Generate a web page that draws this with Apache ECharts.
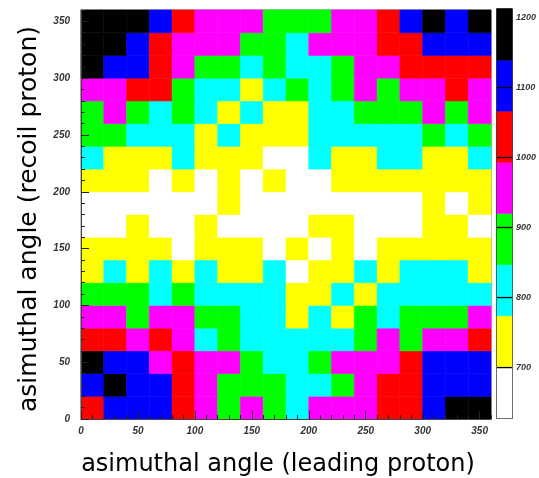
<!DOCTYPE html>
<html>
<head>
<meta charset="utf-8">
<script src="https://cdn.jsdelivr.net/npm/echarts@6/dist/echarts.min.js"></script>
<style>
  html, body { margin: 0; padding: 0; background: #ffffff; }
  #chart { width: 539px; height: 478px; }
</style>
</head>
<body>
<div id="chart"></div>
<script>
// Bin lower edges (degrees), leading proton (x) and recoil proton (y)
const phiLeadEdges = [0, 20, 40, 60, 80, 100, 120, 140, 160, 180, 200, 220, 240, 260, 280, 300, 320, 340];
const phiRecoilEdges = [0, 20, 40, 60, 80, 100, 120, 140, 160, 180, 200, 220, 240, 260, 280, 300, 320, 340];
const binWidth = 20;

// Counts per cell, one array per recoil-proton bin (bottom row first)
const recoil000 = [1035, 1098, 1110, 1095, 1040, 962, 890, 950, 878, 815, 945, 960, 968, 1025, 1048, 1090, 1168, 1182];
const recoil020 = [1105, 1160, 1112, 1088, 1022, 958, 885, 872, 880, 805, 818, 890, 940, 1030, 1015, 1100, 1115, 1095];
const recoil040 = [1172, 1090, 1085, 965, 1020, 948, 955, 878, 812, 800, 886, 962, 970, 950, 1035, 1092, 1108, 1120];
const recoil060 = [1028, 1010, 960, 1018, 945, 808, 875, 815, 820, 806, 812, 798, 880, 952, 890, 960, 945, 1040];
const recoil080 = [955, 968, 884, 948, 962, 876, 890, 820, 808, 745, 815, 740, 878, 810, 885, 892, 870, 958];
const recoil100 = [888, 875, 880, 810, 885, 805, 798, 815, 805, 735, 742, 812, 738, 806, 820, 802, 812, 818];
const recoil120 = [742, 808, 735, 812, 738, 815, 730, 745, 800, 680, 740, 735, 810, 742, 805, 812, 800, 748];
const recoil140 = [735, 745, 738, 728, 672, 740, 750, 732, 668, 736, 660, 744, 675, 738, 730, 742, 748, 738];
const recoil160 = [680, 672, 738, 665, 660, 735, 670, 658, 668, 662, 738, 742, 675, 660, 670, 732, 745, 678];
const recoil180 = [662, 655, 670, 660, 668, 662, 730, 672, 650, 660, 658, 665, 662, 668, 670, 738, 672, 735];
const recoil200 = [740, 735, 728, 680, 742, 678, 738, 684, 735, 676, 665, 738, 745, 732, 738, 742, 736, 740];
const recoil220 = [808, 748, 740, 745, 815, 738, 742, 752, 685, 682, 810, 748, 740, 812, 818, 745, 742, 808];
const recoil240 = [878, 870, 812, 820, 805, 750, 808, 755, 745, 748, 818, 810, 815, 822, 808, 875, 812, 888];
const recoil260 = [886, 950, 872, 818, 880, 812, 752, 820, 748, 745, 822, 815, 885, 878, 882, 955, 880, 948];
const recoil280 = [962, 955, 1012, 1025, 886, 822, 815, 756, 818, 880, 820, 888, 950, 876, 962, 958, 1030, 965];
const recoil300 = [1170, 1098, 1105, 1032, 958, 890, 882, 812, 890, 822, 815, 882, 955, 968, 1028, 1035, 1040, 1022];
const recoil320 = [1178, 1165, 1110, 1040, 962, 958, 955, 885, 892, 815, 950, 962, 960, 1030, 1045, 1102, 1095, 1108];
const recoil340 = [1185, 1172, 1168, 1095, 1038, 955, 962, 950, 880, 888, 892, 955, 960, 1042, 1110, 1175, 1100, 1190];

const rows = [recoil000, recoil020, recoil040, recoil060, recoil080, recoil100, recoil120, recoil140, recoil160,
              recoil180, recoil200, recoil220, recoil240, recoil260, recoil280, recoil300, recoil320, recoil340];

// Colour-scale contour levels and palette
const levels = [628, 701, 774, 847, 920, 993, 1066, 1139, 1212];
const palette = ['#ffffff', '#ffff00', '#00ffff', '#00ff00', '#ff00ff', '#ff0000', '#0000ff', '#000000'];
const axisTicks = [0, 50, 100, 150, 200, 250, 300, 350];
const scaleTicks = [700, 800, 900, 1000, 1100, 1200];

const cellData = [];
rows.forEach((row, j) => {
  row.forEach((v, i) => {
    cellData.push([phiLeadEdges[i], phiRecoilEdges[j], v]);
  });
});

const bandData = palette.map((c, k) => [0, levels[k], levels[k + 1], k]);

const tickFont = { fontSize: 10, fontStyle: 'italic', fontWeight: 'bold', color: '#333', fontFamily: 'Liberation Sans' };

const chart = echarts.init(document.getElementById('chart'), null, { renderer: 'canvas' });

const option = {
  backgroundColor: '#ffffff',
  animation: false,
  grid: [
    { left: 81, top: 10, width: 410, height: 409, show: true, borderColor: '#666', borderWidth: 1, backgroundColor: 'transparent' },
    { left: 497, top: 9, width: 15, height: 409, show: true, borderColor: '#000', borderWidth: 1.5, backgroundColor: 'transparent' }
  ],
  visualMap: {
    type: 'piecewise',
    show: false,
    seriesIndex: 0,
    dimension: 2,
    pieces: palette.map((c, k) => ({ gte: levels[k], lt: levels[k + 1], color: c }))
  },
  xAxis: [
    { gridIndex: 0, type: 'value', min: 0, max: 360, interval: 10, z: 10,
      axisLine: { show: true, lineStyle: { color: '#444', width: 1 } },
      axisTick: { show: true, inside: true, length: 4, lineStyle: { color: '#222' } },
      axisLabel: { ...tickFont, margin: 7, customValues: axisTicks, formatter: v => String(v) },
      splitLine: { show: false } },
    { gridIndex: 0, type: 'value', min: 0, max: 360, z: 10, position: 'bottom',
      axisLine: { show: false },
      axisTick: { show: true, inside: true, length: 8, customValues: axisTicks, lineStyle: { color: '#222' } },
      axisLabel: { show: false },
      splitLine: { show: false } },
    { gridIndex: 1, type: 'value', min: 0, max: 1, show: false }
  ],
  yAxis: [
    { gridIndex: 0, type: 'value', min: 0, max: 360, interval: 10, z: 10,
      axisLine: { show: true, lineStyle: { color: '#444', width: 1 } },
      axisTick: { show: true, inside: true, length: 4, lineStyle: { color: '#222' } },
      axisLabel: { ...tickFont, margin: 11, customValues: axisTicks, formatter: v => String(v) },
      splitLine: { show: false } },
    { gridIndex: 0, type: 'value', min: 0, max: 360, z: 10, position: 'left',
      axisLine: { show: false },
      axisTick: { show: true, inside: true, length: 8, customValues: axisTicks, lineStyle: { color: '#222' } },
      axisLabel: { show: false },
      splitLine: { show: false } },
    { gridIndex: 1, type: 'value', min: levels[0], max: levels[levels.length - 1], position: 'right', z: 10,
      axisLine: { show: false },
      axisTick: { show: false },
      axisLabel: { ...tickFont, fontSize: 9, margin: 4, customValues: scaleTicks, formatter: v => String(v) },
      splitLine: { show: false } }
  ],
  series: [
    {
      type: 'custom',
      xAxisIndex: 0,
      yAxisIndex: 0,
      data: cellData,
      renderItem: function (params, api) {
        const x0 = api.value(0), y0 = api.value(1);
        const p0 = api.coord([x0, y0 + binWidth]);
        const p1 = api.coord([x0 + binWidth, y0]);
        const color = api.visual('color');
        return {
          type: 'rect',
          shape: { x: p0[0], y: p0[1], width: p1[0] - p0[0], height: p1[1] - p0[1] },
          style: { fill: color, stroke: color, lineWidth: 0.6 }
        };
      }
    },
    {
      type: 'custom',
      xAxisIndex: 2,
      yAxisIndex: 2,
      data: bandData,
      renderItem: function (params, api) {
        const lo = api.value(1), hi = api.value(2), k = api.value(3);
        const p0 = api.coord([0, hi]);
        const p1 = api.coord([1, lo]);
        return {
          type: 'rect',
          shape: { x: p0[0], y: p0[1], width: p1[0] - p0[0], height: p1[1] - p0[1] },
          style: { fill: palette[k], stroke: palette[k], lineWidth: 0.5 }
        };
      }
    },
    {
      type: 'custom',
      xAxisIndex: 2,
      yAxisIndex: 2,
      z: 5,
      data: scaleTicks.map(v => [0, v]),
      renderItem: function (params, api) {
        const v = api.value(1);
        const p0 = api.coord([0, v]);
        const p1 = api.coord([1, v]);
        return {
          type: 'line',
          shape: { x1: p0[0], y1: p0[1], x2: p1[0], y2: p1[1] },
          style: { stroke: '#000', lineWidth: 1.3 }
        };
      }
    }
  ],
  graphic: [
    { type: 'text', x: 278, y: 465, style: { text: 'asimuthal angle (leading proton)', font: '24px "DejaVu Sans"', fill: '#000', textAlign: 'center', textVerticalAlign: 'middle' } },
    { type: 'text', x: 29, y: 219, rotation: Math.PI / 2, style: { text: 'asimuthal angle (recoil proton)', font: '25px "DejaVu Sans"', fill: '#000', textAlign: 'center', textVerticalAlign: 'middle' } }
  ]
};

chart.setOption(option);
</script>
</body>
</html>
